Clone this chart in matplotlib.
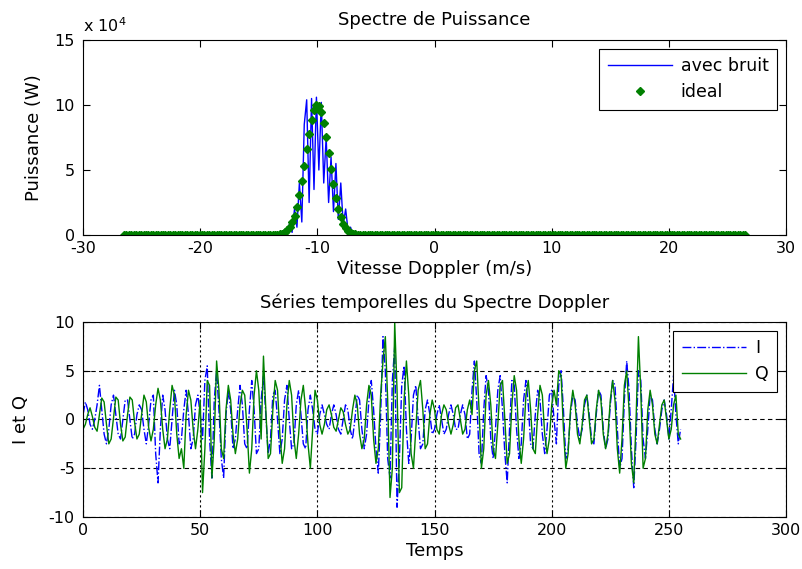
import numpy as np
import matplotlib
matplotlib.use("Agg")
import matplotlib.pyplot as plt

plt.rcParams['font.family'] = ['DejaVu Sans']
plt.rcParams['mathtext.default'] = 'regular'
plt.rcParams['axes.unicode_minus'] = False

# --- spectre (valeurs en unites de 1e4 W), 256 vitesses entre -26.5 et 26.5 m/s
n_points = 256
v_min, v_max = -26.5, 26.5
pic_debut = 62  # indice du premier point de la zone du pic

ideal_pic = [0.02, 0.03, 0.06, 0.11, 0.21, 0.36, 0.61, 0.97, 1.49, 2.19,
             3.08, 4.14, 5.34, 6.6, 7.8, 8.84, 9.59, 9.97, 9.92, 9.45,
             8.63, 7.55, 6.31, 5.06, 3.89, 2.86, 2.0, 1.36, 0.88, 0.54,
             0.32, 0.18, 0.10, 0.05, 0.03]

bruit_pic = [0.0, 0.05, 0.02, 0.1, 0.3, 0.05, 0.9, 0.2, 2.0, 0.6,
             4.0, 1.0, 8.5, 10.4, 2.5, 10.5, 3.5, 10.6, 5.0, 10.2,
             4.0, 7.5, 2.5, 6.0, 1.8, 5.5, 1.2, 4.0, 0.8, 2.0,
             0.3, 0.6, 0.05, 0.15, 0.0]

# --- series temporelles I et Q
I = [0.5, 1.8, 1.0, -0.5, -1.0, 0.0, 1.5, 3.5, 1.0, -1.5, -2.5, -1.0, 1.5, 2.5, 0.5, -1.5,
     -2.0, 0.0, 2.0, 2.0, 0.0, -2.0, -1.5, 0.5, 1.5, 1.0, -1.0, -2.5, -0.5, 2.0, 2.5, -3.5,
     -6.5, -1.0, 2.5, 1.0, -2.0, -3.0, 0.0, 3.0, 1.5, -2.5, -2.0, 1.0, 3.0, 0.5, -3.0, -2.0,
     1.5, 2.5, 0.5, -2.0, 4.0, 5.5, -2.0, -6.0, 2.0, 5.0, 1.0, -4.0, -6.0, 0.5, 3.0, 1.0,
     -3.0, -2.0, 1.0, 3.5, 1.5, -2.5, -3.0, 1.0, 4.0, 1.0, -3.5, -3.0, 2.0, 4.5, 0.5, -3.5,
     -2.0, 2.5, 3.0, 0.0, -3.5, -2.0, 2.0, 3.5, 0.0, -3.0, -2.5, 1.5, 3.0, 0.5, -2.5, -3.0,
     1.0, 2.5, 1.0, -1.0, -1.5, 0.5, 1.5, 0.5, -0.5, -1.0, 0.5, 1.5, 0.5, -1.0, -1.5, 0.0,
     1.5, 1.0, -1.0, -2.0, 0.0, 2.5, 2.0, -1.0, -3.0, -1.5, 2.0, 4.0, 1.0, -3.0, -5.5, 0.5,
     8.5, 5.0, -4.0, -6.0, 4.0, 7.5, -9.0, -4.0, 3.5, 5.5, -1.0, -4.5, -2.0, 2.5, 3.5, 0.0,
     -3.0, -2.5, 1.0, 2.0, 0.5, -1.5, -1.0, 0.5, 1.5, 0.0, -1.5, -1.0, 0.5, 1.5, 0.5, -1.0,
     -1.0, 0.5, 1.5, 0.5, -2.0, -1.5, 3.0, 6.0, 2.0, -3.5, -4.5, 1.0, 4.5, 3.0, -2.0, -4.0,
     -1.0, 3.0, 4.5, 1.0, -3.5, -6.5, -1.0, 4.0, 3.5, -1.0, -4.0, -2.5, 2.0, 4.0, 1.5, -2.5,
     -3.0, 0.5, 3.0, 2.0, -1.5, -3.5, -1.0, 2.5, 3.0, 0.0, -2.5, 3.5, 5.0, 1.0, -4.0, -3.0,
     0.5, 2.5, 2.0, -0.5, -2.0, -1.0, 1.5, 2.5, 0.5, -2.0, -2.5, 0.5, 3.0, 2.5, -1.0, -3.0,
     -2.0, 1.5, 4.0, 3.5, -1.0, -5.0, -4.0, 2.0, 6.0, 3.0, -3.0, -7.0, -2.0, 5.0, 4.0, -2.0,
     -4.0, -1.0, 2.5, 2.0, -1.0, -2.5, -1.0, 1.0, 2.0, 0.5, -2.0, 1.0, 4.5, 0.5, -2.5, -1.0]

Q = [-1.0, -0.5, 0.5, 1.2, 0.3, -0.8, -1.2, 0.5, 2.2, 1.8, -0.5, -2.5, -2.0, 0.2, 2.3, 2.0,
     -0.5, -2.2, -1.8, 0.5, 2.3, 2.0, -0.3, -2.0, -1.5, 0.5, 2.5, 1.8, -0.8, -2.2, -1.0, 1.5,
     3.2, 2.0, -1.0, -3.0, -2.0, 1.0, 3.5, 2.5, -1.5, -4.0, -3.0, -5.0, 0.5, 3.0, 2.0, -1.0,
     -3.0, -1.0, 2.0, -7.5, -3.0, 4.0, 3.5, -6.0, -2.0, 6.0, 3.0, -3.0, -4.0, 1.0, 3.5, 2.0,
     -1.5, -3.5, -2.0, 1.5, 3.0, 2.5, -1.0, -5.5, -3.0, 2.5, 5.0, 3.0, -2.0, 6.5, 1.0, -4.0,
     -3.5, 1.0, 4.0, 3.0, -1.5, -4.5, -3.0, 1.5, 4.0, 2.5, -2.0, -4.0, -1.5, 2.0, 3.5, 1.0,
     -2.5, -5.0, -1.0, 3.0, 2.0, -0.5, -1.5, -0.5, 1.0, 1.5, 0.5, -0.8, -1.2, 0.0, 1.2, 0.8,
     -0.5, -1.5, -1.0, 1.0, 2.5, 1.5, -1.5, -3.0, -2.0, 1.5, 3.5, 2.5, -2.0, -4.5, -3.0, 2.5,
     6.0, 8.5, 2.0, -8.0, -5.0, 10.0, 3.0, -7.5, -7.0, 2.0, 6.0, 2.5, -3.5, -5.0, -1.0, 3.0,
     4.0, 1.0, -3.0, -2.5, 0.5, 2.0, 1.0, -1.0, -1.5, 0.5, 1.5, 1.0, -0.5, -1.5, -0.5, 1.2,
     1.5, 0.0, -1.5, -1.0, 1.0, 2.0, 0.5, 5.0, 6.0, 1.0, -5.0, -3.0, 2.5, 4.0, 1.5, -3.0,
     -4.0, -0.5, 3.5, 4.0, 0.0, -4.5, -3.5, 1.5, 4.5, 3.0, -2.0, -4.5, -2.0, 2.5, 4.0, 1.0,
     -3.0, -3.5, 0.5, 3.5, 2.5, -1.5, -3.5, -2.0, 1.5, 3.0, 1.5, 5.0, 4.5, -1.0, -5.0, -3.5,
     1.0, 3.0, 1.5, -1.5, -2.5, -0.5, 2.0, 2.5, 0.0, -2.5, -2.0, 1.0, 3.0, 2.0, -1.5, -3.0,
     -1.5, 2.0, 4.0, 2.0, -3.0, -5.5, -2.0, 3.5, 5.0, 1.0, -4.5, -6.5, 0.0, 8.5, 3.0, -5.0,
     -4.0, 1.0, 3.0, 1.5, -1.5, -2.5, -0.5, 1.5, 2.0, 0.0, -2.0, -1.0, 1.5, 2.5, -1.5, -2.0]

vitesse = np.linspace(v_min, v_max, n_points)
ideal = np.zeros(n_points)
ideal[pic_debut:pic_debut + len(ideal_pic)] = ideal_pic
bruit = np.zeros(n_points)
bruit[pic_debut:pic_debut + len(bruit_pic)] = bruit_pic
temps = np.arange(len(I))

fs_tick = 11.5
fs_lab = 13
fs_leg = 12.5
bleu = (0, 0, 1)
vert = (0, 0.5, 0)

fig = plt.figure(figsize=(8.03, 5.69), dpi=100)
ax1 = fig.add_axes([0.1034, 0.587, 0.8755, 0.3427])
ax2 = fig.add_axes([0.1034, 0.0914, 0.8755, 0.3427])

ax1.plot(vitesse, bruit, color=bleu, lw=1, label='avec bruit')
ax1.plot(vitesse, ideal, ls='none', marker='D', ms=3.8, color=vert, label='ideal')
ax1.set_xlim(-30, 30)
ax1.set_ylim(0, 15)
ax1.set_xticks([-30, -20, -10, 0, 10, 20, 30])
ax1.set_yticks([0, 5, 10, 15])
ax1.set_title('Spectre de Puissance', fontsize=fs_lab, pad=11)
ax1.set_xlabel('Vitesse Doppler (m/s)', fontsize=fs_lab)
ax1.set_ylabel('Puissance (W)', fontsize=fs_lab)
ax1.text(0.0, 1.04, 'x 10$^{4}$', transform=ax1.transAxes, fontsize=fs_tick)
leg1 = ax1.legend(loc='upper right', fontsize=fs_leg, fancybox=False, edgecolor='black',
                  framealpha=1, borderaxespad=0.5, handlelength=3.7,
                  handletextpad=0.5, labelspacing=0.45, borderpad=0.5)
leg1.get_frame().set_linewidth(0.8)

ax2.plot(temps, I, color=bleu, lw=1, ls='-.', label='I')
ax2.plot(temps, Q, color=vert, lw=1, label='Q')
ax2.set_xlim(0, 300)
ax2.set_ylim(-10, 10)
ax2.set_xticks([0, 50, 100, 150, 200, 250, 300])
ax2.set_yticks([-10, -5, 0, 5, 10])
ax2.xaxis.grid(True, color='black', ls=(0, (2, 2.5)), lw=0.8)
ax2.yaxis.grid(True, color='black', ls=(0, (4, 3)), lw=0.8)
ax2.set_title('Séries temporelles du Spectre Doppler', fontsize=fs_lab, pad=10)
ax2.set_xlabel('Temps', fontsize=fs_lab)
ax2.set_ylabel('I et Q', fontsize=fs_lab)
leg2 = ax2.legend(loc='upper right', fontsize=fs_leg, fancybox=False, edgecolor='black',
                  framealpha=1, borderaxespad=0.5, handlelength=3.7,
                  handletextpad=0.5, labelspacing=0.45, borderpad=0.5)
leg2.get_frame().set_linewidth(0.8)

for ax in (ax1, ax2):
    ax.tick_params(direction='in', top=True, right=True, length=5, labelsize=fs_tick)
    ax.tick_params(axis='x', pad=4.5)
    ax.tick_params(axis='y', pad=6)
    ax.xaxis.set_label_coords(0.5, -0.13)
    for s in ax.spines.values():
        s.set_linewidth(0.8)

ax1.yaxis.set_label_coords(-0.057, 0.5)
ax2.yaxis.set_label_coords(-0.075, 0.5)

fig.savefig('out.png', dpi=100)
